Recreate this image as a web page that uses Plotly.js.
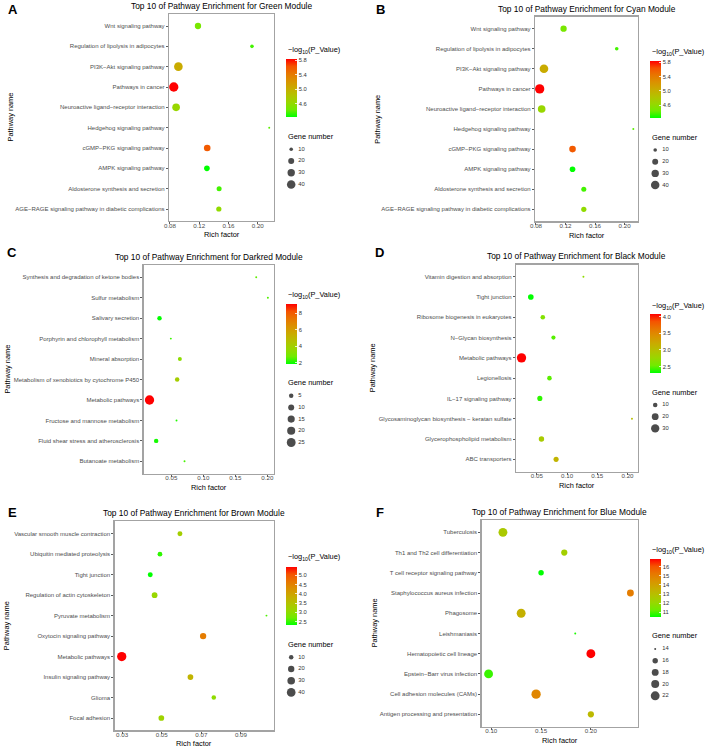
<!DOCTYPE html>
<html><head><meta charset="utf-8">
<script src="https://cdn.plot.ly/plotly-3.0.1.min.js"></script>
<style>html,body{margin:0;padding:0;background:#fff}</style>
</head><body><div id="chart" style="width:708px;height:750px"></div>
<script>
// ---------------- DATA ----------------
// A: Green module
const greenPathways = ["Wnt signaling pathway","Regulation of lipolysis in adipocytes","PI3K−Akt signaling pathway","Pathways in cancer","Neuroactive ligand−receptor interaction","Hedgehog signaling pathway","cGMP−PKG signaling pathway","AMPK signaling pathway","Aldosterone synthesis and secretion","AGE−RAGE signaling pathway in diabetic complications"];
const greenRich  = [0.1183, 0.1921, 0.0915, 0.0852, 0.0884, 0.2157, 0.1309, 0.1305, 0.1472, 0.1468];
const greenGenes = [22, 10, 41, 48, 32, 8, 24, 18, 15, 16];
const greenLogP  = [4.48, 4.36, 5.04, 5.84, 4.64, 4.40, 5.60, 4.24, 4.36, 4.60];
const greenGeneBreaks = [10, 20, 30, 40];
const greenColorTicks = [4.6, 5.0, 5.4, 5.8];
const greenRichTicks  = [0.08, 0.12, 0.16, 0.20];

// B: Cyan module
const cyanPathways = ["Wnt signaling pathway","Regulation of lipolysis in adipocytes","PI3K−Akt signaling pathway","Pathways in cancer","Neuroactive ligand−receptor interaction","Hedgehog signaling pathway","cGMP−PKG signaling pathway","AMPK signaling pathway","Aldosterone synthesis and secretion","AGE−RAGE signaling pathway in diabetic complications"];
const cyanRich  = [0.1174, 0.1894, 0.0908, 0.0850, 0.0877, 0.2119, 0.1295, 0.1295, 0.1448, 0.1448];
const cyanGenes = [22, 10, 41, 48, 32, 8, 24, 18, 15, 16];
const cyanLogP  = [4.48, 4.36, 5.04, 5.84, 4.64, 4.40, 5.60, 4.24, 4.36, 4.60];
const cyanGeneBreaks = [10, 20, 30, 40];
const cyanColorTicks = [4.6, 5.0, 5.4, 5.8];
const cyanRichTicks  = [0.08, 0.12, 0.16, 0.20];

// C: Darkred module
const darkredPathways = ["Synthesis and degradation of ketone bodies","Sulfur metabolism","Salivary secretion","Porphyrin and chlorophyll metabolism","Mineral absorption","Metabolism of xenobiotics by cytochrome P450","Metabolic pathways","Fructose and mannose metabolism","Fluid shear stress and atherosclerosis","Butanoate metabolism"];
const darkredRich  = [0.1826, 0.2008, 0.0315, 0.0492, 0.0633, 0.0591, 0.0159, 0.0581, 0.0263, 0.0706];
const darkredGenes = [2, 2, 5, 2, 4, 5, 28, 2, 5, 2];
const darkredLogP  = [2.6, 2.5, 1.84, 2.3, 3.4, 4.1, 9.1, 2.1, 2.0, 2.4];
const darkredGeneBreaks = [5, 10, 15, 20, 25];
const darkredColorTicks = [2, 4, 6, 8];
const darkredRichTicks  = [0.05, 0.10, 0.15, 0.20];

// D: Black module
const blackPathways = ["Vitamin digestion and absorption","Tight junction","Ribosome biogenesis in eukaryotes","N−Glycan biosynthesis","Metabolic pathways","Legionellosis","IL−17 signaling pathway","Glycosaminoglycan biosynthesis − keratan sulfate","Glycerophospholipid metabolism","ABC transporters"];
const blackRich  = [0.1271, 0.0401, 0.0599, 0.0775, 0.0247, 0.0709, 0.0550, 0.2074, 0.0577, 0.0819];
const blackGenes = [6, 14, 10, 9, 38, 10, 12, 6, 13, 12];
const blackLogP  = [2.69, 2.30, 2.62, 2.47, 4.07, 2.48, 2.39, 3.00, 2.87, 3.10];
const blackGeneBreaks = [10, 20, 30];
const blackColorTicks = [2.5, 3.0, 3.5, 4.0];
const blackRichTicks  = [0.05, 0.10, 0.15, 0.20];

// E: Brown module
const brownPathways = ["Vascular smooth muscle contraction","Ubiquitin mediated proteolysis","Tight junction","Regulation of actin cytoskeleton","Pyruvate metabolism","Oxytocin signaling pathway","Metabolic pathways","Insulin signaling pathway","Glioma","Focal adhesion"];
const brownRich  = [0.0592, 0.0491, 0.0442, 0.0464, 0.1029, 0.0709, 0.0298, 0.0645, 0.0763, 0.0498];
const brownGenes = [12, 11, 12, 16, 5, 20, 47, 16, 10, 16];
const brownLogP  = [3.28, 2.50, 2.34, 3.12, 2.60, 4.60, 5.46, 3.75, 3.03, 3.20];
const brownGeneBreaks = [10, 20, 30, 40];
const brownColorTicks = [2.5, 3.0, 3.5, 4.0, 4.5, 5.0];
const brownRichTicks  = [0.03, 0.05, 0.07, 0.09];

// F: Blue module
const bluePathways = ["Tuberculosis","Th1 and Th2 cell differentiation","T cell receptor signaling pathway","Staphylococcus aureus infection","Phagosome","Leishmaniasis","Hematopoietic cell lineage","Epstein−Barr virus infection","Cell adhesion molecules (CAMs)","Antigen processing and presentation"];
const blueRich  = [0.1117, 0.1733, 0.1500, 0.2397, 0.1300, 0.1843, 0.2000, 0.0973, 0.1450, 0.2000];
const blueGenes = [22, 17, 16, 18, 22, 14, 22, 22, 23, 17];
const blueLogP  = [12.6, 12.4, 10.5, 15.06, 13.5, 10.7, 16.83, 10.9, 14.8, 13.2];
const blueGeneBreaks = [14, 16, 18, 20, 22];
const blueColorTicks = [11, 12, 13, 14, 15, 16];
const blueRichTicks  = [0.10, 0.15, 0.20];

// ---------------- LAYOUT / STYLE ----------------
const W = 708, H = 750;
const FONT = "Liberation Sans, Arial, sans-serif";
const px = v => v / W;
const py = v => 1 - v / H;
// ggplot2 green -> red gradient (Lab interpolation)
const colorscale = [[0,'#00FF00'],[0.125,'#70EB00'],[0.25,'#98D700'],[0.375,'#B3C200'],[0.5,'#C9AB00'],[0.625,'#DA9200'],[0.75,'#E87600'],[0.875,'#F55300'],[1,'#FF0000']];

const panels = [
  {letter:'A', title:'Top 10 of Pathway Enrichment for Green Module', path:greenPathways, rich:greenRich, genes:greenGenes, logp:greenLogP, breaks:greenGeneBreaks, cticks:greenColorTicks, cfmt:'.1f', xticks:greenRichTicks, xfmt:'.2f',
   L:169, R:274, T:13.8, B:221.2, lx:13, ly:9, ty:5.7, ytx:10, cbX:285.7, cbTop:59, cbBot:116.7, cbTy:50, gnTy:136, gnY:149.3},
  {letter:'B', title:'Top 10 of Pathway Enrichment for Cyan Module', path:cyanPathways, rich:cyanRich, genes:cyanGenes, logp:cyanLogP, breaks:cyanGeneBreaks, cticks:cyanColorTicks, cfmt:'.1f', xticks:cyanRichTicks, xfmt:'.2f',
   L:535, R:638, T:16.6, B:221.4, lx:380, ly:9, ty:9, ytx:376.7, cbX:649.7, cbTop:61, cbBot:118.3, cbTy:52.3, gnTy:137.3, gnY:150},
  {letter:'C', title:'Top 10 of Pathway Enrichment for Darkred Module', path:darkredPathways, rich:darkredRich, genes:darkredGenes, logp:darkredLogP, breaks:darkredGeneBreaks, cticks:darkredColorTicks, cfmt:'d', xticks:darkredRichTicks, xfmt:'.2f',
   L:143.6, R:273.8, T:265, B:473.6, lx:12, ly:252, ty:256.7, ytx:7.3, cbX:285.7, cbTop:304.3, cbBot:364, cbTy:295, gnTy:382.3, gnY:395.7},
  {letter:'D', title:'Top 10 of Pathway Enrichment for Black Module', path:blackPathways, rich:blackRich, genes:blackGenes, logp:blackLogP, breaks:blackGeneBreaks, cticks:blackColorTicks, cfmt:'.1f', xticks:blackRichTicks, xfmt:'.2f',
   L:516, R:637.5, T:264.5, B:471.5, lx:379, ly:252.5, ty:256, ytx:373.3, cbX:649.7, cbTop:314.3, cbBot:373, cbTy:305.7, gnTy:392.3, gnY:405},
  {letter:'E', title:'Top 10 of Pathway Enrichment for Brown Module', path:brownPathways, rich:brownRich, genes:brownGenes, logp:brownLogP, breaks:brownGeneBreaks, cticks:brownColorTicks, cfmt:'.1f', xticks:brownRichTicks, xfmt:'.2f',
   L:114.5, R:273.7, T:521.4, B:730.3, lx:12.3, ly:512.8, ty:513.3, ytx:7.3, cbX:285.7, cbTop:566.7, cbBot:625, cbTy:557.3, gnTy:644.3, gnY:657.3},
  {letter:'F', title:'Top 10 of Pathway Enrichment for Blue Module', path:bluePathways, rich:blueRich, genes:blueGenes, logp:blueLogP, breaks:blueGeneBreaks, cticks:blueColorTicks, cfmt:'d', xticks:blueRichTicks, xfmt:'.2f',
   L:481.5, R:637.5, T:520.2, B:726.5, lx:380.3, ly:512.8, ty:512.3, ytx:374, cbX:649.7, cbTop:559, cbBot:617.3, cbTy:550, gnTy:635.7, gnY:649}
];

const GAP = 11.7; // spacing of size-legend rows
const traces = [];
const layout = {
  width: W, height: H, margin: {l:0, r:0, t:0, b:0},
  paper_bgcolor: '#fff', plot_bgcolor: '#fff', showlegend: false,
  font: {family: FONT, color: '#000'}, hovermode: false,
  annotations: []
};

function sizeScale(vals) {
  const m = Math.min(...vals), M = Math.max(...vals);
  return v => 1.47 * (1 + 5 * Math.sqrt(Math.max(0, (v - m) / (M - m))) + 0.33);
}
const axKey = (l, n) => n === 1 ? l + 'axis' : l + 'axis' + n;
const axRef = (l, n) => n === 1 ? l : l + n;

panels.forEach((p, i) => {
  const n = i + 1, ln = i + 7;
  const sz = sizeScale(p.genes);
  const mn = Math.min(...p.rich), mx = Math.max(...p.rich), span = mx - mn;
  const cmin = Math.min(...p.logp), cmax = Math.max(...p.logp);

  traces.push({
    type: 'scatter', mode: 'markers', x: p.rich, y: p.path,
    xaxis: axRef('x', n), yaxis: axRef('y', n), cliponaxis: false,
    marker: {
      size: p.genes.map(sz), color: p.logp, colorscale: colorscale, cmin: cmin, cmax: cmax,
      line: {width: 0}, opacity: 1, showscale: true,
      colorbar: {
        x: px(p.cbX), xanchor: 'left', xref: 'paper', y: py(p.cbTop), yanchor: 'top', yref: 'paper',
        lenmode: 'pixels', len: p.cbBot - p.cbTop, thicknessmode: 'pixels', thickness: 11,
        outlinewidth: 0, borderwidth: 0, xpad: 0, ypad: 0,
        tickmode: 'array', tickvals: p.cticks, tickformat: p.cfmt,
        ticks: 'inside', ticklen: 2, tickcolor: '#fff', tickwidth: 0.8,
        tickfont: {family: FONT, size: 5.8, color: '#333'}
      }
    }
  });

  layout[axKey('x', n)] = {
    domain: [px(p.L), px(p.R)], anchor: axRef('y', n),
    range: [mn - 0.05 * span, mx + 0.05 * span],
    tickmode: 'array', tickvals: p.xticks, tickformat: p.xfmt,
    showgrid: false, zeroline: false, showline: true, mirror: true,
    linecolor: '#A3A3A3', linewidth: 1.2, ticks: 'outside', ticklen: 2, tickwidth: 0.8, tickcolor: '#333',
    ticklabelstandoff: -4,
    tickfont: {family: FONT, size: 6.2, color: '#4D4D4D'}, automargin: false, fixedrange: true
  };
  layout[axKey('y', n)] = {
    domain: [py(p.B), py(p.T)], anchor: axRef('x', n),
    type: 'category', categoryorder: 'array', categoryarray: p.path,
    range: [p.path.length - 0.4, -0.6],
    showgrid: false, zeroline: false, showline: true, mirror: true,
    linecolor: '#A3A3A3', linewidth: 1.2, ticks: 'outside', ticklen: 2, tickwidth: 0.8, tickcolor: '#333',
    tickfont: {family: FONT, size: 6.0, color: '#4D4D4D'}, automargin: false, fixedrange: true
  };

  // size legend ("Gene number") on hidden axes
  const nb = p.breaks.length;
  layout[axKey('x', ln)] = {domain: [px(p.cbX), px(p.cbX + 40)], range: [0, 40], visible: false, fixedrange: true};
  layout[axKey('y', ln)] = {domain: [py(p.gnY + (nb - 1) * GAP + GAP / 2), py(p.gnY - GAP / 2)],
    range: [nb - 0.5, -0.5], visible: false, fixedrange: true};
  traces.push({
    type: 'scatter', mode: 'markers', x: p.breaks.map(() => 5.5), y: p.breaks.map((b, k) => k),
    xaxis: axRef('x', ln), yaxis: axRef('y', ln), cliponaxis: false,
    marker: {size: p.breaks.map(sz), color: '#000', line: {width: 0}}
  });
  traces.push({
    type: 'scatter', mode: 'text', x: p.breaks.map(() => 12.5), y: p.breaks.map((b, k) => k),
    text: p.breaks.map(String), textposition: 'middle right',
    xaxis: axRef('x', ln), yaxis: axRef('y', ln), cliponaxis: false,
    textfont: {family: FONT, size: 5.8, color: '#333'}
  });

  const A = layout.annotations;
  A.push({text: '<b>' + p.letter + '</b>', x: px(p.lx), y: py(p.ly), xref: 'paper', yref: 'paper',
    xanchor: 'center', yanchor: 'middle', showarrow: false, font: {family: FONT, size: 13, color: '#000'}});
  A.push({text: p.title, x: px((p.L + p.R) / 2), y: py(p.ty), xref: 'paper', yref: 'paper',
    xanchor: 'center', yanchor: 'middle', showarrow: false, font: {family: FONT, size: 8.4, color: '#000'}});
  A.push({text: 'Rich factor', x: px((p.L + p.R) / 2), y: py(p.B + 13.6), xref: 'paper', yref: 'paper',
    xanchor: 'center', yanchor: 'middle', showarrow: false, font: {family: FONT, size: 7.4, color: '#000'}});
  A.push({text: 'Pathway name', x: px(p.ytx), y: py((p.T + p.B) / 2), xref: 'paper', yref: 'paper', textangle: -90,
    xanchor: 'center', yanchor: 'middle', showarrow: false, font: {family: FONT, size: 7.4, color: '#000'}});
  A.push({text: '−log<sub>10</sub>(P_Value)', x: px(p.cbX), y: py(p.cbTy), xref: 'paper', yref: 'paper',
    xanchor: 'left', yanchor: 'middle', showarrow: false, font: {family: FONT, size: 7.4, color: '#000'}});
  A.push({text: 'Gene number', x: px(p.cbX), y: py(p.gnTy), xref: 'paper', yref: 'paper',
    xanchor: 'left', yanchor: 'middle', showarrow: false, font: {family: FONT, size: 7.4, color: '#000'}});
});

Plotly.newPlot('chart', traces, layout, {staticPlot: true, displayModeBar: false});
</script>
</body></html>
